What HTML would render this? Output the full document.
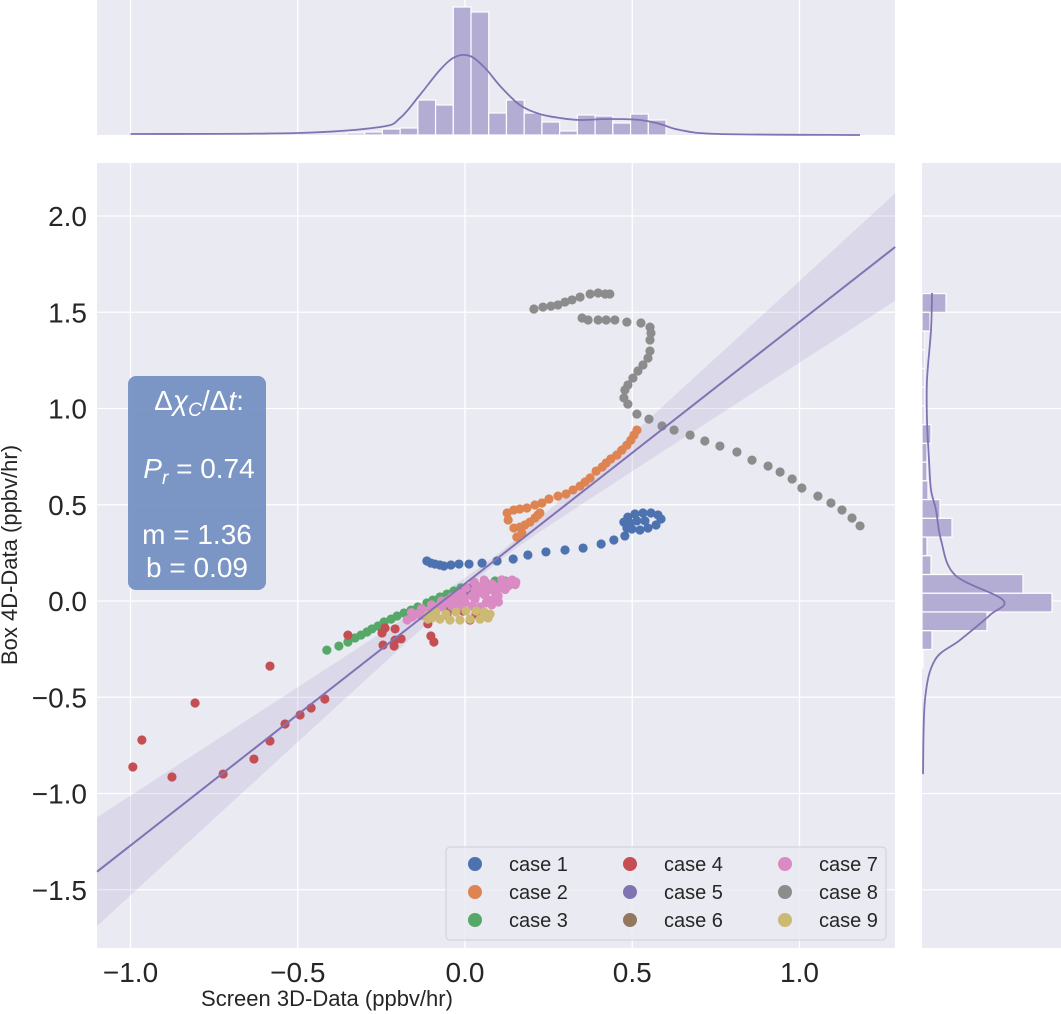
<!DOCTYPE html>
<html><head><meta charset="utf-8"><style>
html,body{margin:0;padding:0;background:#fff;}
svg{display:block;font-family:"Liberation Sans",sans-serif;}
</style></head><body>
<svg id="c" width="1061" height="1014" xmlns="http://www.w3.org/2000/svg"></svg>
<script>
const xTicks=[-1.0,-0.5,0.0,0.5,1.0];
const xTickLabels=["−1.0","−0.5","0.0","0.5","1.0"];
const yTicks=[2.0,1.5,1.0,0.5,0.0,-0.5,-1.0,-1.5];
const yTickLabels=["2.0","1.5","1.0","0.5","0.0","−0.5","−1.0","−1.5"];
const caseNames=["case 1","case 2","case 3","case 4","case 5","case 6","case 7","case 8","case 9"];
const caseColors=["#4c72b0","#dd8452","#55a868","#c44e52","#8172b3","#937860","#da8bc3","#8c8c8c","#ccb974"];
const case1=[[-0.114,0.208],[-0.102,0.197],[-0.090,0.192],[-0.075,0.187],[-0.063,0.182],[-0.042,0.187],[-0.018,0.192],[0.012,0.192],[0.051,0.197],[0.096,0.208],[0.144,0.218],[0.188,0.239],[0.242,0.255],[0.299,0.265],[0.353,0.275],[0.407,0.296],[0.445,0.317],[0.478,0.338],[0.484,0.379],[0.475,0.410],[0.487,0.436],[0.508,0.452],[0.532,0.457],[0.556,0.457],[0.577,0.447],[0.586,0.426],[0.571,0.395],[0.547,0.379],[0.523,0.369],[0.499,0.374],[0.493,0.405],[0.514,0.416],[0.538,0.416]];
const case2=[[0.126,0.457],[0.129,0.421],[0.146,0.379],[0.155,0.332],[0.170,0.353],[0.164,0.384],[0.179,0.395],[0.194,0.410],[0.209,0.431],[0.218,0.447],[0.224,0.457],[0.146,0.473],[0.164,0.478],[0.185,0.483],[0.209,0.499],[0.230,0.509],[0.251,0.530],[0.278,0.545],[0.302,0.556],[0.323,0.577],[0.344,0.597],[0.359,0.618],[0.374,0.639],[0.392,0.675],[0.410,0.696],[0.422,0.717],[0.436,0.738],[0.454,0.758],[0.469,0.784],[0.484,0.810],[0.496,0.836],[0.505,0.862],[0.514,0.888]];
const case3=[[-0.413,-0.255],[-0.377,-0.234],[-0.350,-0.213],[-0.329,-0.192],[-0.311,-0.177],[-0.293,-0.161],[-0.278,-0.145],[-0.260,-0.130],[-0.242,-0.109],[-0.221,-0.094],[-0.203,-0.078],[-0.182,-0.062],[-0.161,-0.047],[-0.141,-0.031],[-0.114,-0.010],[-0.096,0.005],[-0.075,0.021],[-0.054,0.036],[-0.033,0.052],[-0.012,0.068],[0.030,0.088],[0.060,0.099],[0.090,0.104],[0.120,0.104],[0.084,0.088]];
const case4=[[-0.993,-0.862],[-0.966,-0.722],[-0.876,-0.914],[-0.807,-0.530],[-0.723,-0.899],[-0.631,-0.821],[-0.583,-0.727],[-0.538,-0.639],[-0.493,-0.592],[-0.460,-0.556],[-0.419,-0.509],[-0.583,-0.338],[-0.350,-0.177],[-0.248,-0.166],[-0.239,-0.140],[-0.209,-0.145],[-0.245,-0.229],[-0.209,-0.203],[-0.191,-0.197],[-0.212,-0.234],[-0.102,-0.182],[-0.093,-0.213],[-0.111,-0.119],[-0.054,-0.073],[-0.006,-0.052],[0.015,-0.099],[0.033,-0.068]];
const case5=[[-0.009,0.057],[0.015,0.068],[0.039,0.062],[0.000,0.047]];
const case6=[[-0.045,-0.042],[-0.039,-0.036],[-0.030,-0.026],[-0.021,-0.021],[-0.009,-0.021]];
const case7=[[-0.173,-0.099],[-0.158,-0.083],[-0.141,-0.068],[-0.120,-0.057],[-0.099,-0.042],[-0.075,-0.026],[-0.051,-0.010],[-0.027,0.005],[-0.003,0.016],[0.021,0.026],[0.045,0.042],[0.069,0.057],[0.093,0.073],[0.120,0.094],[0.141,0.109],[0.152,0.099],[0.129,0.078],[0.105,0.068],[0.081,0.088],[0.057,0.109],[0.027,0.099],[0.003,0.068],[-0.021,0.036],[-0.051,0.005],[-0.069,-0.031],[-0.039,-0.026],[-0.009,-0.026],[0.021,-0.026],[0.045,-0.031],[0.063,-0.010],[0.081,0.005],[0.099,0.026],[-0.160,-0.060],[-0.130,-0.040],[-0.100,-0.020],[-0.070,0.000],[-0.040,0.020],[-0.010,0.040],[0.030,0.060],[0.060,0.080],[0.110,0.110],[0.130,0.100],[0.150,0.085],[0.120,0.060],[0.090,0.045],[0.060,0.030],[0.030,0.010],[0.000,-0.005],[-0.030,-0.030],[0.080,-0.020],[0.100,-0.005],[0.040,0.075],[-0.130,-0.075]];
const case8=[[0.206,1.517],[0.233,1.527],[0.257,1.532],[0.278,1.538],[0.299,1.553],[0.320,1.564],[0.344,1.579],[0.374,1.595],[0.398,1.600],[0.419,1.595],[0.433,1.595],[0.350,1.470],[0.368,1.460],[0.398,1.460],[0.422,1.460],[0.448,1.460],[0.484,1.449],[0.526,1.444],[0.553,1.423],[0.556,1.392],[0.553,1.356],[0.553,1.299],[0.547,1.262],[0.532,1.226],[0.517,1.195],[0.502,1.158],[0.487,1.122],[0.478,1.096],[0.475,1.055],[0.487,1.023],[0.514,0.971],[0.550,0.945],[0.589,0.909],[0.625,0.888],[0.673,0.862],[0.717,0.831],[0.762,0.805],[0.813,0.774],[0.858,0.732],[0.906,0.701],[0.942,0.670],[0.978,0.634],[1.007,0.587],[1.055,0.545],[1.094,0.509],[1.127,0.473],[1.157,0.431],[1.181,0.390]];
const case9=[[-0.111,-0.073],[-0.087,-0.057],[-0.057,-0.068],[-0.027,-0.057],[0.003,-0.052],[0.033,-0.052],[0.057,-0.057],[0.075,-0.068],[0.069,-0.088],[0.045,-0.094],[0.015,-0.094],[-0.015,-0.099],[-0.045,-0.099],[-0.075,-0.094],[-0.099,-0.088],[-0.111,-0.094]];
const slope=1.36, intercept=0.09;
const topBinStart=-0.353, topBinWidth=0.0530;
const topCounts=[2,3,6,7,35,30,128,123,22,35,22,13,4,20,19,12,21,15];
const topKdeX=[-1.0,-0.5,-0.254,-0.194,-0.135,-0.075,-0.030,0.015,0.060,0.105,0.164,0.224,0.284,0.344,0.433,0.523,0.583,0.643,0.762,1.181];
const topKdeY=[1,2,8,17,40,65,78,79,67,49,30,21,17,15,16,15,11,5,1,0];
const rightBinTop=1.597, rightBinHeight=0.0973;
const rightCounts=[24,8,2,2,2,2,2,9,5,5,6,18,30,5,9,101,130,65,10,1];
const rightKdeY=[1.600,1.408,1.148,0.940,0.732,0.577,0.473,0.317,0.135,0.005,-0.073,-0.203,-0.306,-0.512,-0.899];
const rightKdeV=[10,9,5,5,7,9,14,19,33,81,68,38,13,3,1];

const svg=document.getElementById('c');
const NS="http://www.w3.org/2000/svg";
function el(tag,attrs,parent){const e=document.createElementNS(NS,tag);for(const k in attrs)e.setAttribute(k,attrs[k]);(parent||svg).appendChild(e);return e;}
function smooth(p){let d='M'+p[0][0]+','+p[0][1];for(let i=0;i<p.length-1;i++){const p0=p[i-1]||p[i],p1=p[i],p2=p[i+1],p3=p[i+2]||p2;
 d+=' C'+(p1[0]+(p2[0]-p0[0])/6)+','+(p1[1]+(p2[1]-p0[1])/6)+' '+(p2[0]-(p3[0]-p1[0])/6)+','+(p2[1]-(p3[1]-p1[1])/6)+' '+p2[0]+','+p2[1];}return d;}
const L=97,R=895,T=163,B=948;
const X=v=>465+v*334.5;
const Y=v=>601-v*192.5;
const TOPB=135, RL=922;

let bg=el('rect',{x:L,y:T,width:R-L,height:B-T,fill:'#eaeaf2'});


let tbg=el('rect',{x:L,y:0,width:R-L,height:TOPB,fill:'#eaeaf2'});


let rbg=el('rect',{x:RL,y:T,width:1061-RL,height:B-T,fill:'#eaeaf2'});



xTicks.forEach((t,i)=>{
  let g=el('line',{x1:X(t),x2:X(t),y1:T,y2:B,stroke:'#fff','stroke-width':1.3});
  
  
  let g2=el('line',{x1:X(t),x2:X(t),y1:0,y2:TOPB,stroke:'#fff','stroke-width':1.3});
  
  
  let lb=el('text',{x:X(t),y:982,'text-anchor':'middle','font-size':28,fill:'#262626'});
  lb.textContent=xTickLabels[i];
  
  
});
yTicks.forEach((t,i)=>{
  let g=el('line',{x1:L,x2:R,y1:Y(t),y2:Y(t),stroke:'#fff','stroke-width':1.3});
  
  
  let g2=el('line',{x1:RL,x2:1061,y1:Y(t),y2:Y(t),stroke:'#fff','stroke-width':1.3});
  
  
  let lb=el('text',{x:87,y:Y(t)+10,'text-anchor':'end','font-size':28,fill:'#262626'});
  lb.textContent=yTickLabels[i];
  
  
});

const xs0=-1.1,xs1=1.286,xm=0.1;
const hw=x=>Math.sqrt(0.0004+0.055*(x-xm)*(x-xm));
let up=[],dn=[];
for(let i=0;i<=40;i++){const x=xs0+(xs1-xs0)*i/40;const y=slope*x+intercept;up.push(X(x)+','+Y(y+hw(x)));dn.unshift(X(x)+','+Y(y-hw(x)));}
let band=el('polygon',{points:up.concat(dn).join(' '),fill:'#8172b3','fill-opacity':0.15});



const cases=[case1,case2,case3,case4,case5,case6,case7,case8,case9];
cases.forEach((pts,ci)=>{
  const g=el('g',{});
  
  
  pts.forEach(p=>{
    const c=el('circle',{cx:X(p[0]),cy:Y(p[1]),r:4.6,fill:caseColors[ci]},g);
    
    
  });
});

let rl=el('line',{x1:X(xs0),y1:Y(slope*xs0+intercept),x2:X(xs1),y2:Y(slope*xs1+intercept),stroke:'#8172b3','stroke-width':2});



topCounts.forEach((c,i)=>{
  const x0=X(topBinStart+i*topBinWidth),x1=X(topBinStart+(i+1)*topBinWidth);
  const r=el('rect',{x:x0,y:TOPB-c,width:x1-x0,height:c,fill:'#b3acd3',stroke:'#fff','stroke-width':1.2});
  
  
});
let tk=el('path',{d:smooth(topKdeX.map((x,i)=>[X(x),TOPB-topKdeY[i]])),fill:'none',stroke:'#8172b3','stroke-width':1.8});



rightCounts.forEach((c,i)=>{
  const y0=Y(rightBinTop-i*rightBinHeight),y1=Y(rightBinTop-(i+1)*rightBinHeight);
  const r=el('rect',{x:RL,y:y0,width:c,height:y1-y0,fill:'#b3acd3',stroke:'#fff','stroke-width':1.2});
  
  
});
let rk=el('path',{d:smooth(rightKdeY.map((y,i)=>[RL+rightKdeV[i],Y(y)])),fill:'none',stroke:'#8172b3','stroke-width':1.8});



let xt=el('text',{x:327,y:1006,'text-anchor':'middle','font-size':22,fill:'#262626'});
xt.textContent='Screen 3D-Data (ppbv/hr)';


let yt=el('text',{x:0,y:0,'text-anchor':'middle','font-size':22,fill:'#262626',transform:'translate(17,555) rotate(-90)'});
yt.textContent='Box 4D-Data (ppbv/hr)';



let sb=el('g',{});


el('rect',{x:128,y:376,width:138,height:214,rx:8,fill:'#6f8cc0','fill-opacity':0.9},sb);
let t1=el('text',{x:199,y:410,'text-anchor':'middle','font-size':28,fill:'#fff'},sb);
t1.innerHTML='Δ<tspan font-style="italic">χ</tspan><tspan font-size="19" dy="6" font-style="italic">C</tspan><tspan dy="-6">/Δ</tspan><tspan font-style="italic">t</tspan>:';
let t2=el('text',{x:199,y:478,'text-anchor':'middle','font-size':28,fill:'#fff'},sb);
t2.innerHTML='<tspan font-style="italic">P</tspan><tspan font-size="19" dy="6" font-style="italic">r</tspan><tspan dy="-6"> = 0.74</tspan>';
let t3=el('text',{x:197,y:544,'text-anchor':'middle','font-size':28,fill:'#fff'},sb);
t3.textContent='m = 1.36';
let t4=el('text',{x:197,y:577,'text-anchor':'middle','font-size':28,fill:'#fff'},sb);
t4.textContent='b = 0.09';

let lg=el('g',{});


el('rect',{x:446,y:847,width:440,height:93,rx:4,fill:'#eaeaf2','fill-opacity':0.85,stroke:'#cfcfd6','stroke-width':1},lg);
caseNames.forEach((n,i)=>{
  const col=Math.floor(i/3),row=i%3;
  const mx=475+col*155,my=864+row*28;
  const e=el('g',{},lg);
  
  
  el('circle',{cx:mx,cy:my,r:7,fill:caseColors[i]},e);
  const t=el('text',{x:mx+34,y:my+7,'font-size':20,fill:'#262626'},e);
  t.textContent=n;
});
</script>
</body></html>
